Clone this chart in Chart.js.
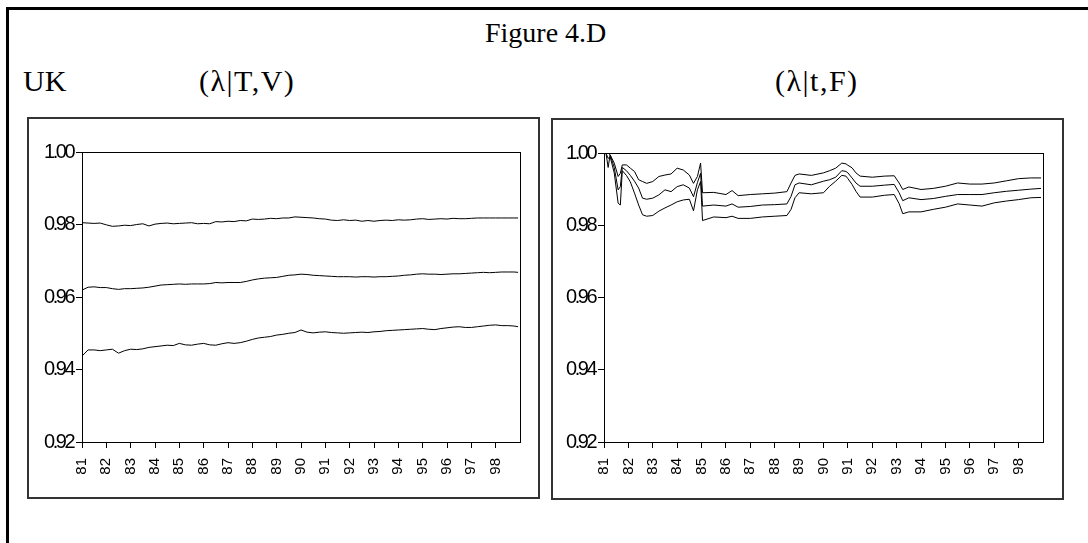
<!DOCTYPE html>
<html>
<head>
<meta charset="utf-8">
<script src="https://cdn.jsdelivr.net/npm/chart.js@4.4.1/dist/chart.umd.min.js"></script>
<style>
html,body{margin:0;padding:0;background:#fff;}
body{width:1088px;height:543px;overflow:hidden;position:relative;font-family:'Liberation Serif','Times New Roman',serif;}
#frame{position:absolute;left:6px;top:7px;width:1200px;height:700px;border-left:3px solid #000;border-top:3px solid #000;}
.t{position:absolute;line-height:1;color:#000;white-space:nowrap;}
.lam{letter-spacing:1.5px;}
.box{position:absolute;border:2px solid #333;box-sizing:border-box;}
canvas{position:absolute;}
</style>
</head>
<body>
<div id="frame"></div>
<div class="t" style="left:485px;top:19px;font-size:28px">Figure 4.D</div>
<div class="t" style="left:23px;top:66px;font-size:30px">UK</div>
<div class="t lam" style="left:199px;top:66px;font-size:30px">(λ|T,V)</div>
<div class="t lam" style="left:775px;top:66px;font-size:30px">(λ|t,F)</div>

<canvas id="cL" width="513" height="382" style="left:27px;top:117px"></canvas>
<canvas id="cR" width="513" height="382" style="left:551px;top:118px"></canvas>
<div class="box" style="left:27px;top:117px;width:513px;height:382px"></div>
<div class="box" style="left:551px;top:118px;width:513px;height:382px"></div>

<script>
// ---- Left panel (λ|T,V): quarterly readings ----
const lYears = [
 1981.0,1981.25,1981.5,1981.75, 1982.0,1982.25,1982.5,1982.75, 1983.0,1983.25,1983.5,1983.75,
 1984.0,1984.25,1984.5,1984.75, 1985.0,1985.25,1985.5,1985.75, 1986.0,1986.25,1986.5,1986.75,
 1987.0,1987.25,1987.5,1987.75, 1988.0,1988.25,1988.5,1988.75, 1989.0,1989.25,1989.5,1989.75,
 1990.0,1990.25,1990.5,1990.75, 1991.0,1991.25,1991.5,1991.75, 1992.0,1992.25,1992.5,1992.75,
 1993.0,1993.25,1993.5,1993.75, 1994.0,1994.25,1994.5,1994.75, 1995.0,1995.25,1995.5,1995.75,
 1996.0,1996.25,1996.5,1996.75, 1997.0,1997.25,1997.5,1997.75, 1998.0,1998.25,1998.5,1998.75, 1998.92];
const lUpper = [
 0.9805,0.9804,0.9803,0.9804, 0.9799,0.9795,0.9796,0.9798, 0.9797,0.9800,0.9802,0.9796,
 0.9801,0.9803,0.9804,0.9802, 0.9803,0.9804,0.9805,0.9802, 0.9803,0.9802,0.9808,0.9807,
 0.9809,0.9808,0.9811,0.9810, 0.9815,0.9814,0.9815,0.9817, 0.9816,0.9818,0.9818,0.9821,
 0.9820,0.9819,0.9818,0.9816, 0.9815,0.9812,0.9811,0.9813, 0.9811,0.9812,0.9809,0.9811,
 0.9809,0.9811,0.9812,0.9811, 0.9813,0.9812,0.9813,0.9815, 0.9816,0.9814,0.9815,0.9816,
 0.9815,0.9817,0.9816,0.9816, 0.9817,0.9818,0.9818,0.9818, 0.9818,0.9818,0.9818,0.9818, 0.9818];
const lMid = [
 0.9619,0.9627,0.9628,0.9626, 0.9626,0.9623,0.9621,0.9623, 0.9623,0.9624,0.9625,0.9627,
 0.9630,0.9633,0.9634,0.9635, 0.9636,0.9635,0.9636,0.9636, 0.9636,0.9637,0.9640,0.9639,
 0.9640,0.9640,0.9640,0.9643, 0.9647,0.9650,0.9652,0.9653, 0.9654,0.9657,0.9660,0.9661,
 0.9663,0.9662,0.9660,0.9659, 0.9658,0.9657,0.9656,0.9656, 0.9656,0.9655,0.9656,0.9656,
 0.9655,0.9656,0.9656,0.9657, 0.9658,0.9660,0.9661,0.9663, 0.9664,0.9663,0.9663,0.9662,
 0.9663,0.9664,0.9664,0.9665, 0.9666,0.9667,0.9668,0.9667, 0.9668,0.9669,0.9669,0.9669, 0.9668];
const lLower = [
 0.9437,0.9454,0.9454,0.9452, 0.9454,0.9456,0.9445,0.9452, 0.9456,0.9455,0.9457,0.9461,
 0.9463,0.9465,0.9467,0.9466, 0.9472,0.9468,0.9467,0.9470, 0.9472,0.9468,0.9467,0.9471,
 0.9474,0.9472,0.9474,0.9478, 0.9483,0.9487,0.9489,0.9491, 0.9495,0.9497,0.9500,0.9502,
 0.9509,0.9503,0.9501,0.9503, 0.9504,0.9502,0.9501,0.9500, 0.9501,0.9502,0.9503,0.9502,
 0.9504,0.9505,0.9507,0.9508, 0.9509,0.9510,0.9511,0.9512, 0.9513,0.9511,0.9510,0.9513,
 0.9515,0.9517,0.9518,0.9516, 0.9516,0.9518,0.9520,0.9522, 0.9523,0.9521,0.9521,0.9520, 0.9518];

// ---- Right panel (λ|t,F) ----
const rYears = [1981.0,1981.08,1981.17,1981.25,1981.42,1981.58,1981.67,1981.75,1981.92,1982.08,1982.25,1982.42,1982.58,1982.75,1983.0,1983.25,1983.5,1983.75,1984.0,1984.25,1984.5,1984.67,1984.83,1984.96,1985.04,1985.5,1986.0,1986.25,1986.5,1987.0,1987.5,1988.0,1988.5,1988.67,1988.83,1989.0,1989.5,1990.0,1990.25,1990.5,1990.75,1990.92,1991.0,1991.17,1991.33,1991.5,1992.0,1992.5,1992.9,1993.1,1993.25,1993.5,1994.0,1994.5,1995.0,1995.5,1996.0,1996.5,1997.0,1997.5,1998.0,1998.5,1998.92];
const rUpper = [1.0,1.0,1.0,0.9995,0.9972,0.9935,0.9944,0.9967,0.9967,0.9958,0.9949,0.9926,0.9921,0.9916,0.9921,0.9935,0.9939,0.9942,0.9958,0.9953,0.9939,0.9916,0.9935,0.9972,0.9890,0.9891,0.9885,0.9896,0.9882,0.9885,0.9887,0.9889,0.9893,0.9917,0.9938,0.9942,0.9938,0.9945,0.9951,0.9958,0.9972,0.9970,0.9966,0.9959,0.9945,0.9936,0.9933,0.9936,0.9937,0.9917,0.9899,0.9906,0.9899,0.9902,0.9908,0.9917,0.9914,0.9914,0.9917,0.9923,0.9929,0.9931,0.9931];
const rMid   = [1.0,1.0,0.9960,0.9995,0.9960,0.9898,0.9907,0.9960,0.9951,0.9938,0.9922,0.9903,0.9875,0.9872,0.9875,0.9884,0.9898,0.9893,0.9907,0.9912,0.9903,0.9879,0.9918,0.9944,0.9853,0.9856,0.9853,0.9859,0.9850,0.9852,0.9856,0.9857,0.9859,0.9880,0.9912,0.9917,0.9912,0.9922,0.9926,0.9933,0.9951,0.9949,0.9945,0.9931,0.9917,0.9908,0.9908,0.9911,0.9913,0.9890,0.9868,0.9876,0.9871,0.9874,0.9880,0.9885,0.9885,0.9885,0.9890,0.9894,0.9897,0.9900,0.9902];
const rLower = [1.0,1.0,0.9985,0.9990,0.9945,0.9861,0.9856,0.9951,0.9938,0.9920,0.9889,0.9856,0.9829,0.9825,0.9827,0.9839,0.9848,0.9856,0.9865,0.9870,0.9872,0.9840,0.9898,0.9921,0.9813,0.9823,0.9821,0.9825,0.9819,0.9819,0.9823,0.9825,0.9827,0.9844,0.9876,0.9890,0.9887,0.9890,0.9908,0.9922,0.9938,0.9936,0.9929,0.9913,0.9894,0.9878,0.9878,0.9883,0.9885,0.9860,0.9832,0.9837,0.9837,0.9844,0.9850,0.9859,0.9856,0.9853,0.9862,0.9867,0.9871,0.9876,0.9877];

// ---- Axis tick definitions ----
const xMin = 1981, xMax = 1999, xStep = 1;
const yMin = 0.92, yMax = 1.00, yStep = 0.02;

// tighter letter spacing on the value-axis labels (as in the original)
const origDrawLabels = Chart.LinearScale.prototype.drawLabels;
Chart.LinearScale.prototype.drawLabels = function(area){
  if (this.axis === 'y') {
    this.ctx.save();
    this.ctx.letterSpacing = '-2.5px';
    origDrawLabels.call(this, area);
    this.ctx.restore();
  } else {
    origDrawLabels.call(this, area);
  }
};

const framePlugin = {
  id: 'frame',
  afterDatasetsDraw(chart){
    const a = chart.chartArea, c = chart.ctx;
    c.save();
    c.strokeStyle = '#000';
    c.lineWidth = 1;
    c.strokeRect(Math.round(a.left)+0.5, Math.round(a.top)+0.5, Math.round(a.right-a.left), Math.round(a.bottom-a.top));
    c.restore();
  }
};

function makeChart(id, xs, series, yWidth, padRight, padTop, xHeight){
  const ds = series.map(s => ({
    data: xs.map((x,i) => ({x: x, y: s[i]})),
    borderColor: '#000', borderWidth: 1, pointRadius: 0, tension: 0, fill: false
  }));
  const axisFont = {family: "'Liberation Sans', Arial, sans-serif"};
  return new Chart(document.getElementById(id), {
    type: 'line',
    data: {datasets: ds},
    options: {
      responsive: false, animation: false,
      layout: {padding: {top: padTop, right: padRight, left: 0, bottom: 0}},
      plugins: {legend: {display: false}, tooltip: {enabled: false}},
      scales: {
        x: {
          type: 'linear', min: xMin, max: xMax,
          afterFit: s => { s.height = xHeight; },
          afterBuildTicks: s => { s.ticks = s.ticks.filter(t => t.value < xMax); },
          ticks: {stepSize: xStep, autoSkip: false, minRotation: 90, maxRotation: 90, padding: 10,
                  color: '#000', font: Object.assign({size: 15}, axisFont),
                  callback: v => String(v).slice(2)},
          grid: {display: true, drawOnChartArea: false, drawTicks: true, tickLength: 6, color: '#000'},
          border: {display: true, color: '#000', width: 1}
        },
        y: {
          min: yMin, max: yMax,
          afterFit: s => { s.width = yWidth; },
          ticks: {stepSize: yStep, padding: 3, color: '#000', font: Object.assign({size: 20}, axisFont),
                  callback: v => v.toFixed(2)},
          grid: {display: true, drawOnChartArea: false, drawTicks: true, tickLength: 6, color: '#000'},
          border: {display: true, color: '#000', width: 1}
        }
      }
    },
    plugins: [framePlugin]
  });
}

makeChart('cL', lYears, [lUpper, lMid, lLower], 55, 20, 35, 57);
makeChart('cR', rYears, [rUpper, rMid, rLower], 53, 21, 35, 58);
</script>
</body>
</html>
